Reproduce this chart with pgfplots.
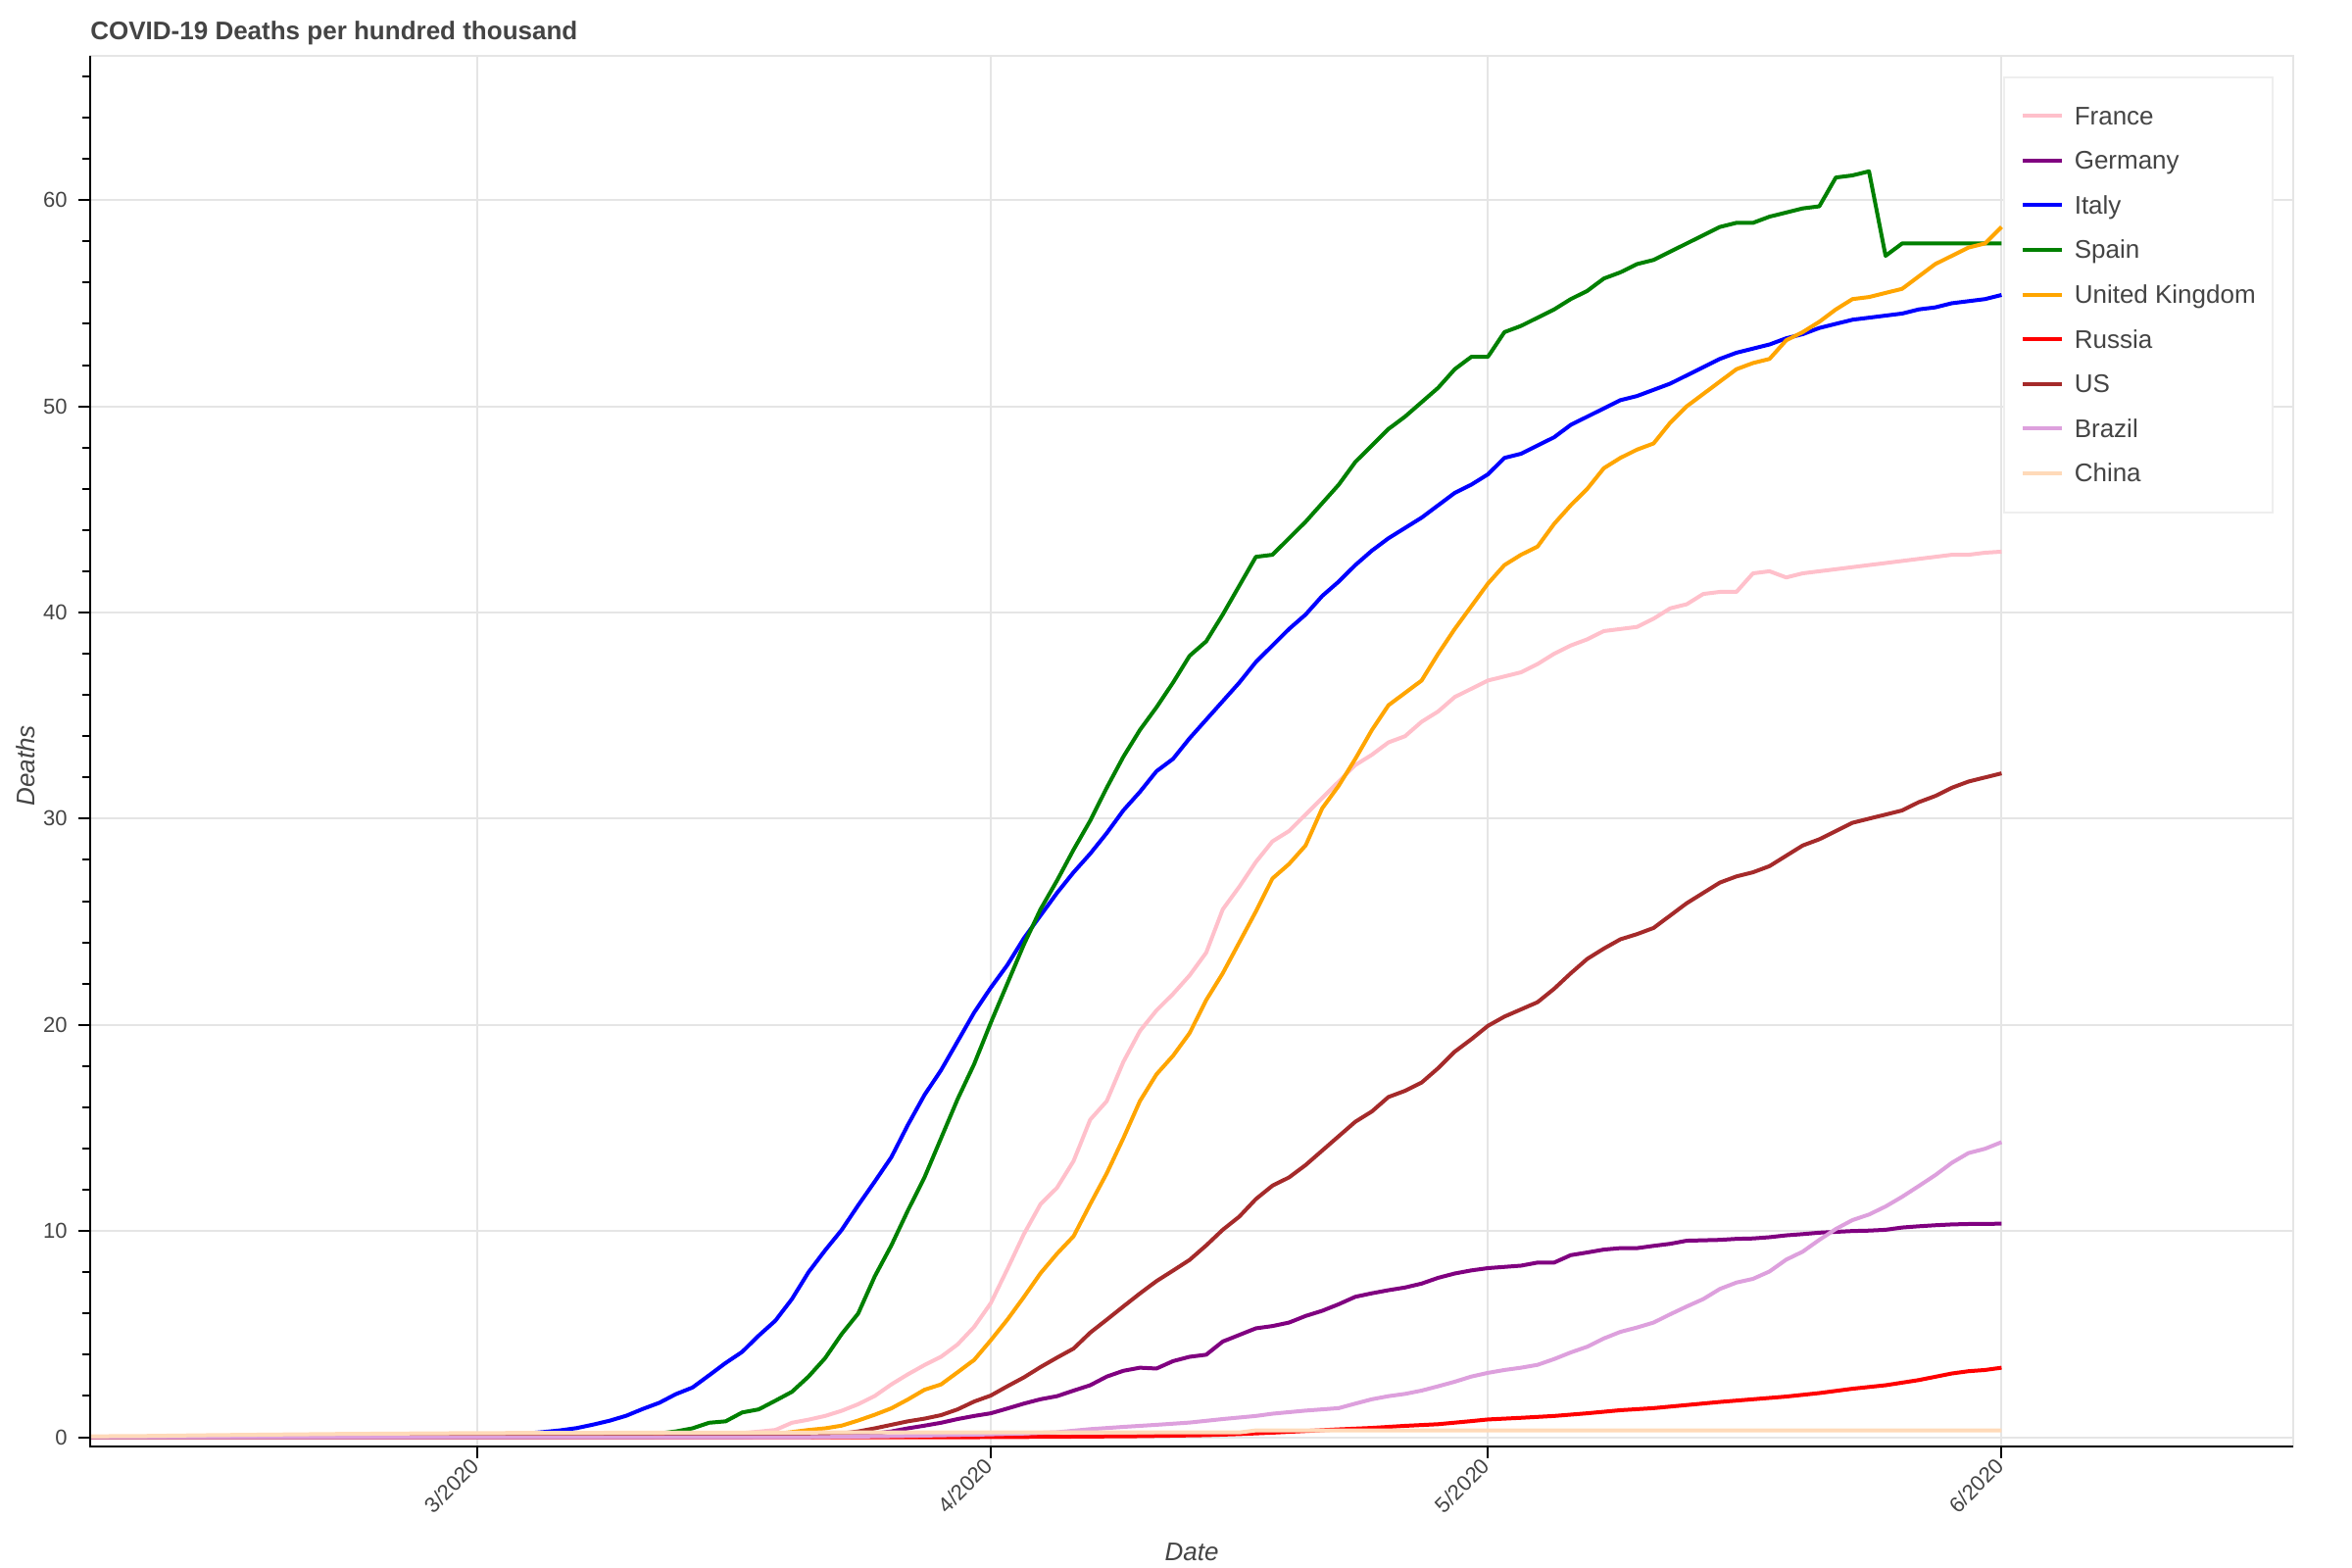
\documentclass[border=0pt]{standalone}
\usepackage{pgfplots}
\pgfplotsset{compat=1.18}
\usepackage{fontspec}
\setmainfont{Liberation Sans}
\definecolor{textgray}{HTML}{444444}
\definecolor{gridgray}{HTML}{E5E5E5}
\definecolor{legendgray}{HTML}{EEEEEE}
\definecolor{cFrance}{HTML}{FFC0CB}
\definecolor{cGermany}{HTML}{800080}
\definecolor{cItaly}{HTML}{0000FF}
\definecolor{cSpain}{HTML}{008000}
\definecolor{cUK}{HTML}{FFA500}
\definecolor{cRussia}{HTML}{FF0000}
\definecolor{cUS}{HTML}{A52A2A}
\definecolor{cBrazil}{HTML}{DDA0DD}
\definecolor{cChina}{HTML}{FFDAB9}
\begin{document}
\begin{tikzpicture}
\useasboundingbox (-46pt,-62pt) rectangle (1154pt,738pt);
\begin{axis}[
  at={(0,0)}, anchor=south west,
  scale only axis,
  width=1124pt, height=709.5pt,
  xmin=-23.35, xmax=109.6, ymin=-0.45, ymax=67,
  axis line style={draw=gridgray, line width=1pt},
  grid=major, major grid style={draw=gridgray, line width=1pt},
  xtick={0,31,61,92}, xticklabels={3/2020,4/2020,5/2020,6/2020},
  ytick={0,10,...,60},
  minor ytick={2,4,6,8,12,14,16,18,22,24,26,28,32,34,36,38,42,44,46,48,52,54,56,58,62,64,66},
  tick align=outside, tick pos=left,
  major tick length=6pt, minor tick length=4pt,
  tick style={black, line width=1pt},
  /pgf/number format/assume math mode=true,
  yticklabel style={font=\fontsize{11}{13}\selectfont, text=textgray, inner sep=0pt, anchor=east, xshift=-5.5pt},
  xticklabel style={font=\fontsize{11}{13}\selectfont, text=textgray, inner sep=0pt, yshift=-1.8pt, xshift=-1pt, rotate=45, anchor=east},
  title={COVID-19 Deaths per hundred thousand},
  title style={at={(axis description cs:0,1.0035)}, anchor=base west, inner sep=0pt, font=\bfseries\fontsize{13}{15}\selectfont, text=textgray},
  xlabel={Date},
  xlabel style={at={(axis description cs:0.5,-0.0761)}, anchor=center, font=\itshape\fontsize{13}{15}\selectfont, text=textgray},
  ylabel={Deaths},
  ylabel style={at={(axis description cs:-0.02936,0.4895)}, anchor=center, rotate=0, font=\itshape\fontsize{13}{15}\selectfont, text=textgray},
  legend style={at={(0.991,0.9855)}, anchor=north east, draw=legendgray, line width=1pt, fill=white, text=textgray,
    font=\fontsize{13}{15}\selectfont, inner xsep=8.5pt, inner ysep=13.3pt, row sep=9.8pt, column sep=5.5pt,
    nodes={inner sep=0pt, text height=11pt, text depth=2pt}},
  legend cell align=left,
  legend image code/.code={\draw[#1, line width=2pt] (0pt,0pt) -- (20pt,0pt);},
  every axis plot/.append style={line width=2pt, line join=round, mark=none},
  clip=true,
  after end axis/.code={\draw[black, line width=1pt] (rel axis cs:0,1) -- (rel axis cs:0,0) -- (rel axis cs:1,0);},
]
% France
\addplot[cFrance] coordinates {(-24,0) (0,0.01) (10,0.05) (14,0.12) (16,0.2) (17,0.27) (18,0.35) (19,0.7) (20,0.85) (21,1.03) (22,1.28) (23,1.6) (24,2.0) (25,2.56) (26,3.05) (27,3.5) (28,3.9) (29,4.5) (30,5.35) (31,6.5) (32,8.15) (33,9.85) (34,11.3) (35,12.1) (36,13.4) (37,15.4) (38,16.3) (39,18.2) (40,19.7) (41,20.7) (42,21.5) (43,22.4) (44,23.5) (45,25.6) (46,26.7) (47,27.9) (48,28.9) (49,29.4) (50,30.2) (51,31.0) (52,31.8) (53,32.6) (54,33.1) (55,33.7) (56,34.0) (57,34.7) (58,35.2) (59,35.9) (60,36.3) (61,36.7) (62,36.9) (63,37.1) (64,37.5) (65,38.0) (66,38.4) (67,38.7) (68,39.1) (69,39.2) (70,39.3) (71,39.7) (72,40.2) (73,40.4) (74,40.9) (75,41.0) (76,41.0) (77,41.9) (78,42.0) (79,41.7) (80,41.9) (81,42.0) (82,42.1) (83,42.2) (84,42.3) (85,42.4) (86,42.5) (87,42.6) (88,42.7) (89,42.8) (90,42.8) (91,42.9) (92,42.95)};
\addlegendentry{France}
% Germany
\addplot[cGermany] coordinates {(-24,0) (10,0.0) (20,0.02) (22,0.05) (24,0.18) (25,0.28) (26,0.43) (27,0.56) (28,0.7) (29,0.88) (30,1.03) (31,1.16) (32,1.39) (33,1.63) (34,1.84) (35,1.99) (36,2.26) (37,2.52) (38,2.94) (39,3.22) (40,3.37) (41,3.33) (42,3.69) (43,3.9) (44,4.0) (45,4.64) (46,4.96) (47,5.28) (48,5.39) (49,5.56) (50,5.88) (51,6.13) (52,6.45) (53,6.81) (54,6.98) (55,7.13) (56,7.26) (57,7.45) (58,7.73) (59,7.94) (60,8.09) (61,8.2) (62,8.26) (63,8.32) (64,8.47) (65,8.47) (66,8.83) (67,8.96) (68,9.1) (69,9.17) (70,9.17) (71,9.28) (72,9.38) (73,9.53) (74,9.55) (75,9.57) (76,9.62) (77,9.64) (78,9.7) (79,9.79) (80,9.85) (81,9.92) (82,9.96) (83,10.0) (84,10.02) (85,10.06) (86,10.17) (87,10.23) (88,10.28) (89,10.32) (90,10.34) (91,10.34) (92,10.36)};
\addlegendentry{Germany}
% Italy
\addplot[cItaly] coordinates {(-24,0) (-9,0) (-7,0.01) (-4,0.03) (-2,0.04) (0,0.06) (1,0.09) (2,0.13) (3,0.18) (4,0.25) (5,0.33) (6,0.44) (7,0.61) (8,0.8) (9,1.04) (10,1.37) (11,1.67) (12,2.09) (13,2.41) (14,3.0) (15,3.6) (16,4.14) (17,4.93) (18,5.65) (19,6.7) (20,8.0) (21,9.06) (22,10.05) (23,11.25) (24,12.4) (25,13.58) (26,15.15) (27,16.6) (28,17.8) (29,19.2) (30,20.6) (31,21.8) (32,22.9) (33,24.2) (34,25.3) (35,26.4) (36,27.4) (37,28.3) (38,29.3) (39,30.4) (40,31.3) (41,32.3) (42,32.9) (43,33.9) (44,34.8) (45,35.7) (46,36.6) (47,37.6) (48,38.4) (49,39.2) (50,39.9) (51,40.8) (52,41.5) (53,42.3) (54,43.0) (55,43.6) (56,44.1) (57,44.6) (58,45.2) (59,45.8) (60,46.2) (61,46.7) (62,47.5) (63,47.7) (64,48.1) (65,48.5) (66,49.1) (67,49.5) (68,49.9) (69,50.3) (70,50.5) (71,50.8) (72,51.1) (73,51.5) (74,51.9) (75,52.3) (76,52.6) (77,52.8) (78,53.0) (79,53.3) (80,53.5) (81,53.8) (82,54.0) (83,54.2) (84,54.3) (85,54.4) (86,54.5) (87,54.7) (88,54.8) (89,55.0) (90,55.1) (91,55.2) (92,55.4)};
\addlegendentry{Italy}
% Spain
\addplot[cSpain] coordinates {(-24,0) (5,0.01) (8,0.04) (9,0.06) (10,0.1) (11,0.18) (12,0.28) (13,0.43) (14,0.7) (15,0.77) (16,1.2) (17,1.35) (18,1.77) (19,2.2) (20,2.94) (21,3.83) (22,5.0) (23,6.0) (24,7.8) (25,9.3) (26,11.0) (27,12.6) (28,14.5) (29,16.4) (30,18.1) (31,20.1) (32,22.0) (33,23.9) (34,25.6) (35,27.0) (36,28.5) (37,29.9) (38,31.5) (39,33.0) (40,34.3) (41,35.4) (42,36.6) (43,37.9) (44,38.6) (45,39.9) (46,41.3) (47,42.7) (48,42.8) (49,43.6) (50,44.4) (51,45.3) (52,46.2) (53,47.3) (54,48.1) (55,48.9) (56,49.5) (57,50.2) (58,50.9) (59,51.8) (60,52.4) (61,52.4) (62,53.6) (63,53.9) (64,54.3) (65,54.7) (66,55.2) (67,55.6) (68,56.2) (69,56.5) (70,56.9) (71,57.1) (72,57.5) (73,57.9) (74,58.3) (75,58.7) (76,58.9) (77,58.9) (78,59.2) (79,59.4) (80,59.6) (81,59.7) (82,61.1) (83,61.2) (84,61.4) (85,57.3) (86,57.9) (87,57.9) (88,57.9) (89,57.9) (90,57.9) (91,57.9) (92,57.9)};
\addlegendentry{Spain}
% United Kingdom
\addplot[cUK] coordinates {(-24,0) (10,0.01) (14,0.03) (16,0.08) (18,0.15) (19,0.25) (20,0.35) (21,0.43) (22,0.56) (23,0.81) (24,1.09) (25,1.4) (26,1.83) (27,2.3) (28,2.56) (29,3.15) (30,3.75) (31,4.7) (32,5.7) (33,6.8) (34,7.95) (35,8.9) (36,9.75) (37,11.3) (38,12.8) (39,14.5) (40,16.3) (41,17.6) (42,18.5) (43,19.6) (44,21.2) (45,22.5) (46,24.0) (47,25.5) (48,27.1) (49,27.8) (50,28.7) (51,30.5) (52,31.6) (53,32.9) (54,34.3) (55,35.5) (56,36.1) (57,36.7) (58,38.0) (59,39.2) (60,40.3) (61,41.4) (62,42.3) (63,42.8) (64,43.2) (65,44.3) (66,45.2) (67,46.0) (68,47.0) (69,47.5) (70,47.9) (71,48.2) (72,49.2) (73,50.0) (74,50.6) (75,51.2) (76,51.8) (77,52.1) (78,52.3) (79,53.2) (80,53.6) (81,54.1) (82,54.7) (83,55.2) (84,55.3) (85,55.5) (86,55.7) (87,56.3) (88,56.9) (89,57.3) (90,57.7) (91,57.9) (92,58.7)};
\addlegendentry{United Kingdom}
% Russia
\addplot[cRussia] coordinates {(-24,0) (30,0.0) (35,0.02) (40,0.05) (44,0.1) (46,0.15) (48,0.22) (50,0.3) (52,0.38) (54,0.45) (56,0.55) (58,0.63) (60,0.78) (61,0.86) (63,0.94) (65,1.03) (67,1.16) (69,1.31) (71,1.41) (73,1.56) (75,1.71) (77,1.84) (79,1.97) (81,2.14) (83,2.35) (85,2.52) (87,2.77) (89,3.09) (90,3.2) (91,3.26) (92,3.37)};
\addlegendentry{Russia}
% US
\addplot[cUS] coordinates {(-24,0) (10,0.01) (18,0.03) (21,0.1) (22,0.18) (23,0.28) (24,0.43) (25,0.6) (26,0.77) (27,0.9) (28,1.07) (29,1.35) (30,1.73) (31,2.02) (32,2.47) (33,2.9) (34,3.4) (35,3.86) (36,4.3) (37,5.07) (38,5.7) (39,6.34) (40,6.97) (41,7.57) (42,8.08) (43,8.6) (44,9.3) (45,10.06) (46,10.7) (47,11.55) (48,12.2) (49,12.6) (50,13.2) (51,13.9) (52,14.6) (53,15.3) (54,15.8) (55,16.5) (56,16.8) (57,17.2) (58,17.9) (59,18.7) (60,19.3) (61,19.95) (62,20.4) (63,20.75) (64,21.1) (65,21.75) (66,22.5) (67,23.2) (68,23.7) (69,24.15) (70,24.4) (71,24.7) (72,25.3) (73,25.9) (74,26.4) (75,26.9) (76,27.2) (77,27.4) (78,27.7) (79,28.2) (80,28.7) (81,29.0) (82,29.4) (83,29.8) (84,30.0) (85,30.2) (86,30.4) (87,30.8) (88,31.1) (89,31.5) (90,31.8) (91,32.0) (92,32.2)};
\addlegendentry{US}
% Brazil
\addplot[cBrazil] coordinates {(-24,0) (20,0.0) (25,0.05) (30,0.12) (33,0.18) (35,0.24) (37,0.39) (39,0.5) (41,0.6) (43,0.71) (45,0.88) (47,1.03) (48,1.14) (50,1.29) (52,1.41) (53,1.63) (54,1.84) (55,1.99) (56,2.1) (57,2.26) (58,2.47) (59,2.69) (60,2.94) (61,3.12) (62,3.26) (63,3.37) (64,3.51) (65,3.79) (66,4.11) (67,4.39) (68,4.79) (69,5.11) (70,5.32) (71,5.56) (72,5.96) (73,6.34) (74,6.7) (75,7.19) (76,7.5) (77,7.68) (78,8.04) (79,8.61) (80,9.0) (81,9.57) (82,10.1) (83,10.53) (84,10.8) (85,11.19) (86,11.66) (87,12.18) (88,12.71) (89,13.31) (90,13.78) (91,13.99) (92,14.31)};
\addlegendentry{Brazil}
% China
\addplot[cChina] coordinates {(-24,0.04) (-20,0.06) (-16,0.1) (-12,0.13) (-8,0.16) (-4,0.18) (0,0.2) (10,0.22) (20,0.227) (30,0.23) (46,0.23) (47,0.33) (92,0.33)};
\addlegendentry{China}
\end{axis}
\end{tikzpicture}
\end{document}
